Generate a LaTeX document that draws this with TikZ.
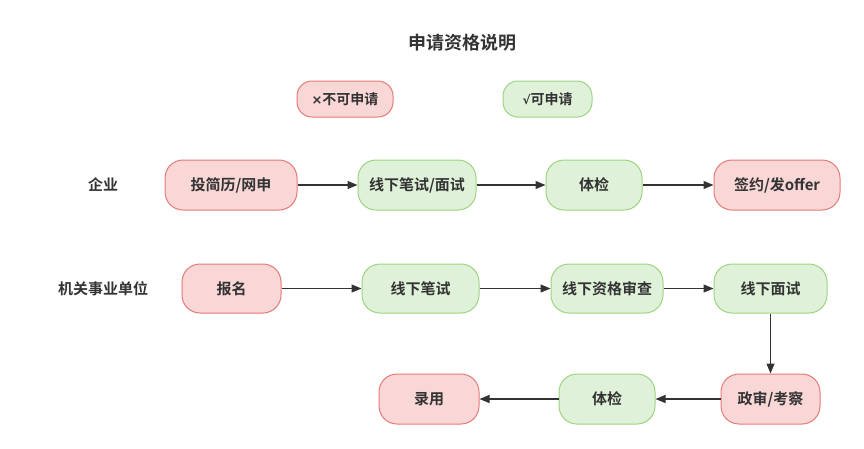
\documentclass[tikz,border=0pt]{standalone}
\usepackage{fontspec}
\setmainfont{Noto Sans CJK SC}[BoldFont={* Bold}]
\newfontfamily\symfont{DejaVu Sans}[BoldFont={* Bold}]
\usetikzlibrary{arrows.meta}
\definecolor{redfill}{HTML}{F8D7D6}
\definecolor{redline}{HTML}{E57A78}
\definecolor{greenfill}{HTML}{DFF2D9}
\definecolor{greenline}{HTML}{9CD47E}
\definecolor{txt}{HTML}{333333}
\tikzset{
  box/.style={draw, line width=1pt, rounded corners=18pt, inner sep=0pt,
    font=\fontsize{15}{17}\selectfont\bfseries, text=txt},
  redbox/.style={box, fill=redfill, draw=redline},
  greenbox/.style={box, fill=greenfill, draw=greenline},
  lbl/.style={font=\fontsize{15}{17}\selectfont\bfseries, text=txt},
  conn/.style={draw=txt, line width=1.1pt, -{Triangle[length=10pt,width=8pt]}},
}
\newcommand{\bx}[7]{% style, name, x1, y1, x2, y2, text
  \node[#1, minimum width={#5-#3}, minimum height={#6-#4}] (#2) at ({(#3+#5)/2},{(#4+#6)/2}) {#7};}
\begin{document}
\begin{tikzpicture}[x=1pt,y=-1pt]
\useasboundingbox (0,0) rectangle (864,448);
\node[font=\fontsize{18}{20}\selectfont\bfseries, text=txt] (title) at (462,43) {申请资格说明};
% legend
\bx{redbox,rounded corners=15pt,font=\fontsize{14}{16}\selectfont\bfseries}{lno}{297}{81}{393}{117}{{\symfont\fontsize{13}{13}\selectfont ×}不可申请}
\bx{greenbox,rounded corners=15pt,font=\fontsize{14}{16}\selectfont\bfseries}{lyes}{503}{81}{592}{117}{{\symfont\fontsize{12}{13}\selectfont √}可申请}
% row labels
\node[lbl] (qiye) at (103,185) {企业};
\node[lbl] (jiguan) at (103,289) {机关事业单位};
% row 1
\bx{redbox}{a1}{165}{160}{297}{210}{投简历/网申}
\bx{greenbox}{a2}{358}{160}{476}{210}{线下笔试/面试}
\bx{greenbox}{a3}{546}{160}{642}{210}{体检}
\bx{redbox}{a4}{714}{160}{840}{210}{签约/发offer}
% row 2
\bx{redbox}{b1}{182}{264}{281}{313}{报名}
\bx{greenbox}{b2}{362}{264}{479}{313}{线下笔试}
\bx{greenbox}{b3}{551}{264}{663}{313}{线下资格审查}
\bx{greenbox}{b4}{714}{264}{827}{313}{线下面试}
% row 3
\bx{redbox}{c1}{379}{374}{479}{424}{录用}
\bx{greenbox}{c2}{559}{374}{655}{424}{体检}
\bx{redbox}{c3}{721}{374}{820}{424}{政审/考察}
% connectors
\draw[conn] (a1) -- (a2);
\draw[conn] (a2) -- (a3);
\draw[conn] (a3) -- (a4);
\draw[conn] (b1) -- (b2);
\draw[conn] (b2) -- (b3);
\draw[conn] (b3) -- (b4);
\draw[conn] (b4.south -| c3.north) -- (c3.north);
\draw[conn] (c3) -- (c2);
\draw[conn] (c2) -- (c1);
\end{tikzpicture}
\end{document}
